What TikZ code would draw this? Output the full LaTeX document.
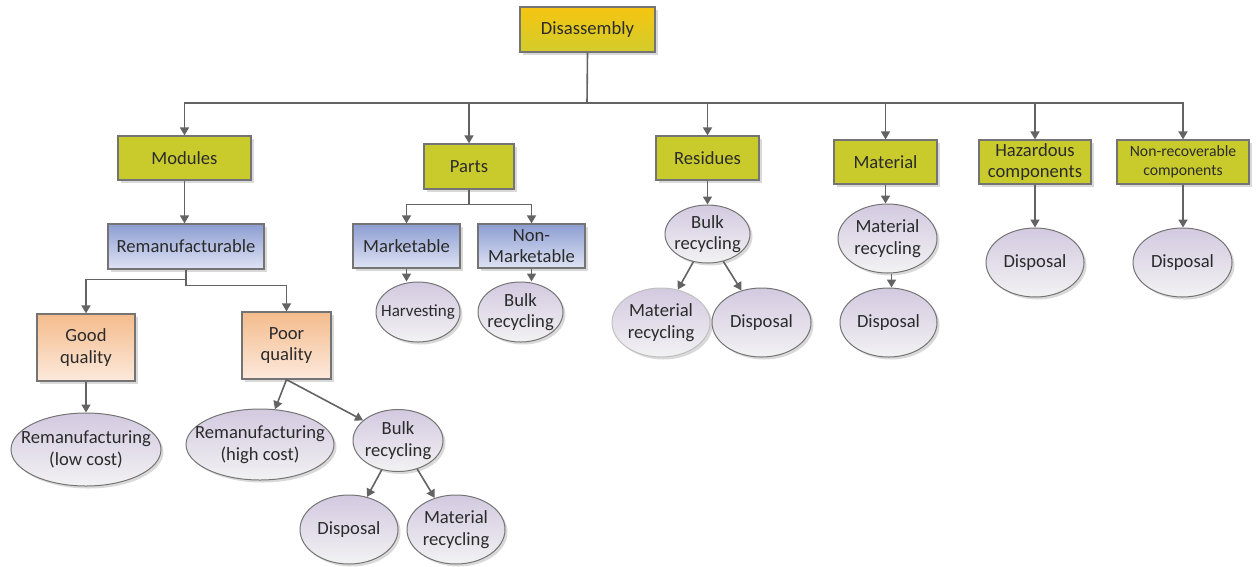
\documentclass[tikz,border=0pt]{standalone}
\usepackage{fontspec}
\setmainfont{Carlito}
\usetikzlibrary{arrows.meta,shapes.geometric,shadows}

\definecolor{lime}{HTML}{C9CB2C}
\definecolor{goldtop}{HTML}{F6C511}
\definecolor{goldbot}{HTML}{D2CC2C}
\definecolor{bluetop}{HTML}{8C9DD1}
\definecolor{bluebot}{HTML}{DFE3F4}
\definecolor{peachtop}{HTML}{F4BC8C}
\definecolor{peachbot}{HTML}{FCE9DC}
\definecolor{ovaltop}{HTML}{D3C9E0}
\definecolor{ovalbot}{HTML}{F2F2F3}
\definecolor{edgegray}{HTML}{747474}
\definecolor{arrgray}{HTML}{636363}
\definecolor{txtgray}{HTML}{2B2B2B}

\begin{document}
\begin{tikzpicture}[x=1pt, y=-1pt,
    every node/.style={font=\fontsize{18.6}{21.7}\selectfont, text=txtgray, align=center},
    sz/.style 2 args={minimum width=#1pt, minimum height=#2pt},
    shade/.style={drop shadow={shadow xshift=2.5pt, shadow yshift=-2.5pt, opacity=0.15, fill=black}},
    box/.style={draw=edgegray, line width=1.2pt, inner sep=0pt, shade},
    limebox/.style={box, fill=lime},
    goldbox/.style={box, top color=goldtop, bottom color=goldbot},
    bluebox/.style={box, top color=bluetop, bottom color=bluebot},
    peachbox/.style={box, top color=peachtop, bottom color=peachbot},
    oval/.style={ellipse, draw=edgegray, line width=1pt, inner sep=0pt, top color=ovaltop, bottom color=ovalbot, shade},
    line/.style={draw=arrgray, line width=1.6pt},
    arr/.style={line, -{Triangle[length=8pt, width=9pt]}}]

    \useasboundingbox (0,0) rectangle (1257,566);

    % Top of the tree
    \node[goldbox, sz={135}{45}] (dis) at (587.5,29.5) {Disassembly};
    \coordinate (bus) at (587,103);

    % First level
    \node[limebox, sz={133}{44}] (modules) at (184.5,158) {Modules};
    \node[limebox, sz={90}{45}] (parts) at (469,166.5) {Parts};
    \node[limebox, sz={103}{44}] (residues) at (707.5,158) {Residues};
    \node[limebox, sz={103}{44}] (material) at (885.5,162) {Material};
    \node[limebox, sz={112}{44}] (hazard) at (1035,162) {Hazardous\\components};
    \node[limebox, sz={132}{44}, font=\fontsize{15.7}{19}\selectfont] (nonrec) at (1183,162) {Non-recoverable\\components};

    % Second level
    \node[bluebox, sz={156}{45}] (reman) at (186,246.5) {Remanufacturable};
    \node[bluebox, sz={107}{44}] (mkt) at (406.5,246) {Marketable};
    \node[bluebox, sz={107}{44}] (nonmkt) at (531.5,246) {Non-\\Marketable};
    \node[peachbox, sz={98}{67}] (good) at (86,347.5) {Good\\quality};
    \node[peachbox, sz={89}{67}] (poor) at (286.5,345.5) {Poor\\quality};

    % End of life options
    \node[oval, sz={84}{60}, label={[font=\fontsize{17}{20}\selectfont]center:Harvesting}] (harv) at (418,312) {};
    \node[oval, sz={85}{60}, label={center:Bulk\\recycling}] (bulkP) at (520.5,312) {};
    \node[oval, sz={85}{58}, label={center:Bulk\\recycling}] (bulkR) at (707.5,234) {};
    \node[oval, sz={98}{69}, draw=edgegray!45, label={center:Material\\recycling}] (recR) at (661,322.5) {};
    \node[oval, sz={99}{69}, label={center:Disposal}] (dispR) at (761.5,322.5) {};
    \node[oval, sz={99}{69}, label={center:Material\\recycling}] (recM) at (887.5,238.5) {};
    \node[oval, sz={97}{69}, label={center:Disposal}] (dispM) at (888.5,322.5) {};
    \node[oval, sz={98}{69}, label={center:Disposal}] (dispH) at (1035,262.5) {};
    \node[oval, sz={99}{69}, label={center:Disposal}] (dispN) at (1182.5,262.5) {};
    \node[oval, sz={150}{73}, label={center:Remanufacturing\\(low cost)}] (lowcost) at (86,449.5) {};
    \node[oval, sz={148}{71}, label={center:Remanufacturing\\(high cost)}] (highcost) at (260,444.5) {};
    \node[oval, sz={90}{62}, label={center:Bulk\\recycling}] (bulkQ) at (398,440.5) {};
    \node[oval, sz={98}{69}, label={center:Disposal}] (dispQ) at (349,529.5) {};
    \node[oval, sz={98}{69}, label={center:Material\\recycling}] (recQ) at (456,529.5) {};

    % Draw the bus below Disassembly
    \draw[line] (dis.south) -- (bus);
    \foreach \n in {modules,parts,residues,material,hazard,nonrec}
        \draw[arr] (bus) -| (\n.north);

    % Modules branch
    \draw[arr] (modules.south) -- (modules.south |- reman.north);
    \draw[arr] (reman.south) -- ++(0,10) -| (good.north);
    \draw[arr] (reman.south) -- ++(0,16) -| (poor.north);
    \draw[arr] (good.south) -- (lowcost.north);
    \draw[arr] (poor.south) -- (highcost.67);
    \draw[arr] (poor.south) -- (bulkQ.150);
    \draw[arr] (bulkQ.241) -- (dispQ.61);
    \draw[arr] (bulkQ.304) -- (recQ.124);

    % Parts branch
    \draw[arr] (parts.south) -- ++(0,15) -| (mkt.north);
    \draw[arr] (parts.south) -- ++(0,15) -| (nonmkt.north);
    \draw[arr] (mkt.south) -- (mkt.south |- harv.north);
    \draw[arr] (nonmkt.south) -- (nonmkt.south |- bulkP.north);

    % Residues branch
    \draw[arr] (residues.south) -- (bulkR.north);
    \draw[arr] (bulkR.243) -- (recR.63);
    \draw[arr] (bulkR.300) -- (dispR.122);

    % Material and the rest
    \draw[arr] (material.south) -- (material.south |- recM.north);
    \draw[arr] ([xshift=4pt]recM.south) -- ([xshift=4pt]recM.south |- dispM.north);
    \draw[arr] (hazard.south) -- (dispH.north);
    \draw[arr] (nonrec.south) -- (nonrec.south |- dispN.north);

\end{tikzpicture}
\end{document}
